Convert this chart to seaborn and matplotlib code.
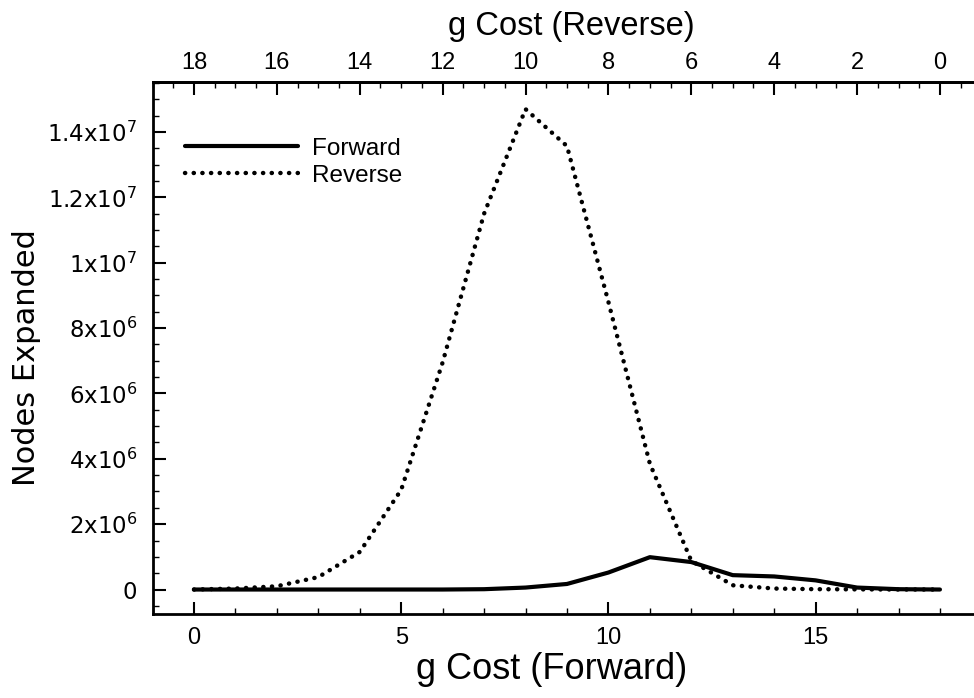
import numpy as np
import pandas as pd
import matplotlib
matplotlib.use("Agg")
import matplotlib.pyplot as plt
import seaborn as sns
from matplotlib.ticker import MultipleLocator, FixedLocator

# ---- data ----
g_cost = list(range(19))
forward_nodes = [0, 0, 0, 0, 0, 0, 0, 0.01e6, 0.06e6, 0.17e6, 0.52e6, 0.99e6,
                 0.84e6, 0.44e6, 0.40e6, 0.28e6, 0.06e6, 0.01e6, 0]
reverse_nodes = [0, 0.03e6, 0.10e6, 0.38e6, 1.15e6, 3.05e6, 6.95e6, 11.5e6,
                 14.7e6, 13.57e6, 8.8e6, 3.85e6, 0.88e6, 0.13e6, 0.03e6,
                 0.01e6, 0.005e6, 0, 0]
series_names = ["Forward", "Reverse"]
y_tick_values = [0, 2e6, 4e6, 6e6, 8e6, 1e7, 1.2e7, 1.4e7]
y_tick_labels = ["0", r"$\mathregular{2x10^{6}}$", r"$\mathregular{4x10^{6}}$",
                 r"$\mathregular{6x10^{6}}$", r"$\mathregular{8x10^{6}}$",
                 r"$\mathregular{1x10^{7}}$", r"$\mathregular{1.2x10^{7}}$",
                 r"$\mathregular{1.4x10^{7}}$"]
x_bottom_ticks = [0, 5, 10, 15]
x_top_ticks = list(range(0, 19, 2))
max_g = 18

df = pd.DataFrame({
    "g": g_cost * 2,
    "nodes": forward_nodes + reverse_nodes,
    "dir": [series_names[0]] * len(g_cost) + [series_names[1]] * len(g_cost),
})

sns.set_theme(style="ticks")
plt.rcParams["font.family"] = ["Liberation Sans", "DejaVu Sans"]
plt.rcParams["mathtext.fontset"] = "dejavusans"
for k in ["text.color", "axes.labelcolor", "xtick.color", "ytick.color",
          "xtick.labelcolor", "ytick.labelcolor", "axes.edgecolor"]:
    plt.rcParams[k] = "black"

fig = plt.figure(figsize=(9.74, 6.98), dpi=100)
ax = fig.add_axes([0.1566, 0.1203, 0.851, 0.7622])

sns.lineplot(data=df[df["dir"] == series_names[0]], x="g", y="nodes", ax=ax,
             color="black", lw=3, solid_capstyle="round", label=series_names[0])
sns.lineplot(data=df[df["dir"] == series_names[1]], x="g", y="nodes", ax=ax,
             color="black", lw=3.2, linestyle=(0, (0.05, 1.9)),
             dash_capstyle="round", label=series_names[1])

ax.set_xlim(-1, 19)
ax.set_ylim(-0.75e6, 15.53e6)

# spines
for s in ["left", "bottom", "top"]:
    ax.spines[s].set_linewidth(2.0)
    ax.spines[s].set_color("black")
ax.spines["right"].set_visible(False)

# bottom x axis
ax.xaxis.set_major_locator(FixedLocator(x_bottom_ticks))
ax.xaxis.set_minor_locator(MultipleLocator(1))
ax.tick_params(axis="x", which="major", direction="in", length=9, width=1.5,
               labelsize=17, pad=9, top=False, colors="black")
ax.tick_params(axis="x", which="minor", direction="in", length=4.5, width=1.0,
               top=False, colors="black")

# left y axis
ax.set_yticks(y_tick_values)
ax.set_yticklabels(y_tick_labels)
ax.yaxis.set_minor_locator(MultipleLocator(0.5e6))
ax.tick_params(axis="y", which="major", direction="in", length=9, width=1.5,
               labelsize=16.5, pad=11, right=False, colors="black")
ax.tick_params(axis="y", which="minor", direction="in", length=4.5, width=1.0,
               right=False, colors="black")
for lab in ax.get_yticklabels():
    lab.set_fontfamily("DejaVu Sans")

ax.set_xlabel("g Cost (Forward)", fontsize=26, color="black")
ax.xaxis.set_label_coords(0.482, -0.072)
ax.set_ylabel("Nodes Expanded", fontsize=22, color="black",
              fontfamily="DejaVu Sans")
ax.yaxis.set_label_coords(-0.134, 0.482)

# top (reverse) axis
sec = ax.secondary_xaxis("top", functions=(lambda x: max_g - x,
                                           lambda x: max_g - x))
sec.xaxis.set_major_locator(FixedLocator(x_top_ticks))
sec.xaxis.set_minor_locator(MultipleLocator(0.5))
sec.tick_params(axis="x", which="major", direction="in", length=9, width=1.5,
                labelsize=17, pad=6, colors="black")
sec.tick_params(axis="x", which="minor", direction="in", length=4.5, width=1.0,
                colors="black")
sec.spines["top"].set_linewidth(2.0)
ax.text(0.505, 1.075, "g Cost (Reverse)", transform=ax.transAxes,
        ha="center", va="bottom", fontsize=23.5, color="black")

# legend
leg = ax.legend(loc="upper left", bbox_to_anchor=(0.039, 0.895), frameon=False,
                fontsize=17.5, handlelength=4.65, handletextpad=0.58,
                labelspacing=0.2, borderpad=0, borderaxespad=0)

fig.savefig("out.png", dpi=100)
